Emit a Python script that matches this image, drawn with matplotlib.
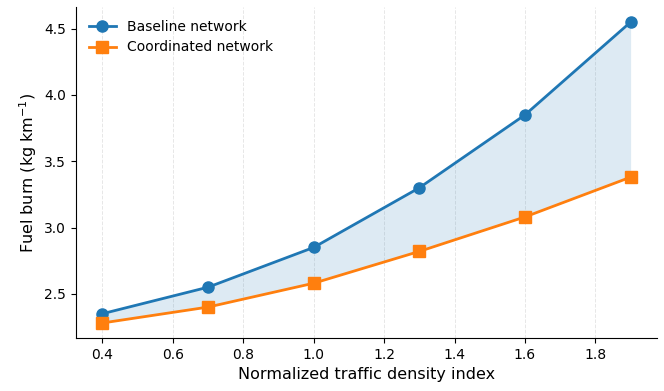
import numpy as np
import matplotlib
matplotlib.use('Agg')
import matplotlib.pyplot as plt

density = [0.4, 0.7, 1.0, 1.3, 1.6, 1.9]
baseline = [2.35, 2.55, 2.85, 3.30, 3.85, 4.55]
coordinated = [2.28, 2.40, 2.58, 2.82, 3.08, 3.38]

fig = plt.figure(figsize=(6.64, 3.91), dpi=100)
ax = fig.add_axes([0.1145, 0.1355, 0.875, 0.8465])

# shaded gap between the two networks
ax.fill_between(density, baseline, coordinated, color='tab:blue', alpha=0.15, linewidth=0)
ax.plot(density, baseline, '-o', color='tab:blue', lw=2, ms=8, label='Baseline network')
ax.plot(density, coordinated, '-s', color='tab:orange', lw=2, ms=8, label='Coordinated network')

ax.set_xlabel('Normalized traffic density index', fontsize=11.5)
ax.set_ylabel('Fuel burn (kg km$^{-1}$)', fontsize=11.5)
ax.grid(axis='x', linestyle='--', linewidth=0.7, alpha=0.3)
ax.set_axisbelow(True)
ax.spines['top'].set_visible(False)
ax.spines['right'].set_visible(False)
ax.legend(loc='upper left', frameon=False, fontsize=10)

fig.savefig('out.png', dpi=100, facecolor='white')
